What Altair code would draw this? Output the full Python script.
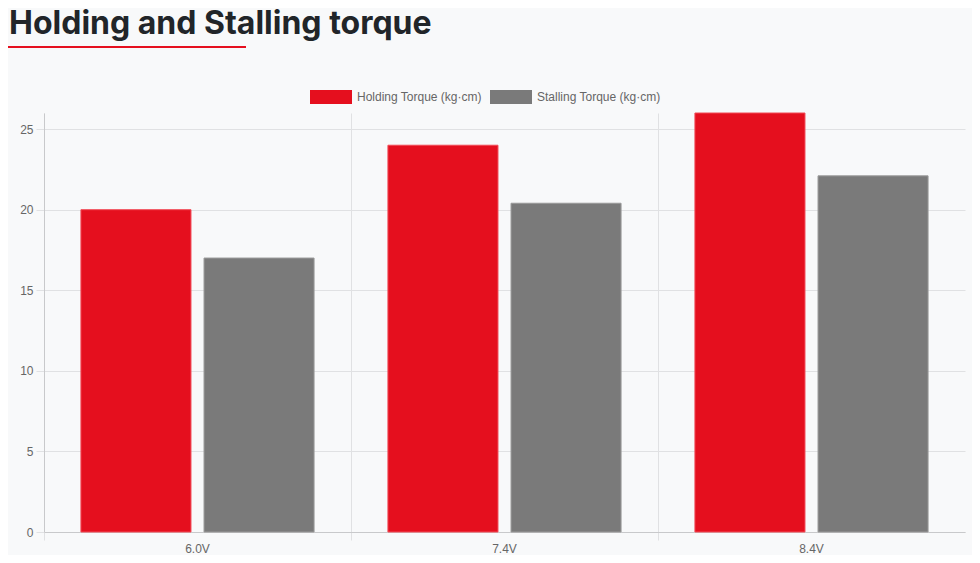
import altair as alt
import pandas as pd

# ---- data ----
voltages = ["6.0V", "7.4V", "8.4V"]
holding = [20, 24, 26]
stalling = [17, 20.4, 22.1]
series_names = ["Holding Torque (kg·cm)", "Stalling Torque (kg·cm)"]
series_colors = ["#e50f1e", "#7a7a7a"]
series_strokes = ["#f24a55", "#9a9a9a"]
y_ticks = [0, 5, 10, 15, 20, 25]
title_text = ["Holding and Stalling torque"]

rows = []
for v, h, s in zip(voltages, holding, stalling):
    rows.append({"voltage": v, "series": series_names[0], "value": h})
    rows.append({"voltage": v, "series": series_names[1], "value": s})
df = pd.DataFrame(rows)

W, H = 921, 419
GRID = "#e0e1e3"
AXIS = "#c8c9cb"

bars = alt.Chart(df).mark_bar(strokeWidth=1).encode(
    x=alt.X(
        "voltage:N",
        sort=voltages,
        scale=alt.Scale(paddingInner=0, paddingOuter=0),
        axis=alt.Axis(
            title=None,
            labelAngle=0,
            bandPosition=0,
            grid=True,
            gridColor=GRID,
            tickColor=GRID,
            tickSize=8,
            domainColor=AXIS,
            labelFont="Liberation Sans",
            labelFontSize=12,
            labelColor="#666666",
            labelPadding=3,
        ),
    ),
    xOffset=alt.XOffset(
        "series:N",
        sort=series_names,
        scale=alt.Scale(paddingInner=0.106, paddingOuter=0.30),
    ),
    y=alt.Y(
        "value:Q",
        scale=alt.Scale(domain=[0, 26], nice=False),
        axis=alt.Axis(
            title=None,
            values=y_ticks,
            grid=True,
            gridColor=GRID,
            tickColor=GRID,
            tickSize=8,
            domainColor=AXIS,
            labelFont="Liberation Sans",
            labelFontSize=12,
            labelColor="#666666",
            labelPadding=3,
        ),
    ),
    color=alt.Color(
        "series:N",
        sort=series_names,
        scale=alt.Scale(domain=series_names, range=series_colors),
        legend=alt.Legend(
            title=None,
            orient="none",
            direction="horizontal",
            legendX=266,
            legendY=-37,
            padding=0,
            symbolType="M-1,-0.3333H1V0.3333H-1Z",
            symbolSize=1764,
            symbolStrokeWidth=0,
            labelFont="Liberation Sans",
            labelFontSize=12,
            labelColor="#666666",
            labelOffset=5,
            columnPadding=8,
        ),
    ),
    stroke=alt.Stroke(
        "series:N",
        sort=series_names,
        scale=alt.Scale(domain=series_names, range=series_strokes),
        legend=None,
    ),
)

title_df = pd.DataFrame({"t": title_text})
title = alt.Chart(title_df).mark_text(
    align="left",
    baseline="alphabetic",
    font="Inter",
    fontWeight=700,
    fontSize=32,
    color="#212529",
).encode(text="t:N", x=alt.value(-35), y=alt.value(-79))

underline = alt.Chart(title_df).mark_rule(color="#e50f1e", strokeWidth=2).encode(
    x=alt.value(-36), x2=alt.value(202), y=alt.value(-66)
)

chart = (
    alt.layer(bars, title, underline)
    .properties(
        width=W,
        height=H,
        autosize=alt.AutoSizeParams(type="none"),
        padding={"left": 36, "top": 105, "right": 7, "bottom": 23},
        background="#f8f9fa",
    )
    .configure_view(stroke=None)
)

chart.save("out.html", embed_options={"renderer": "svg", "actions": False})
